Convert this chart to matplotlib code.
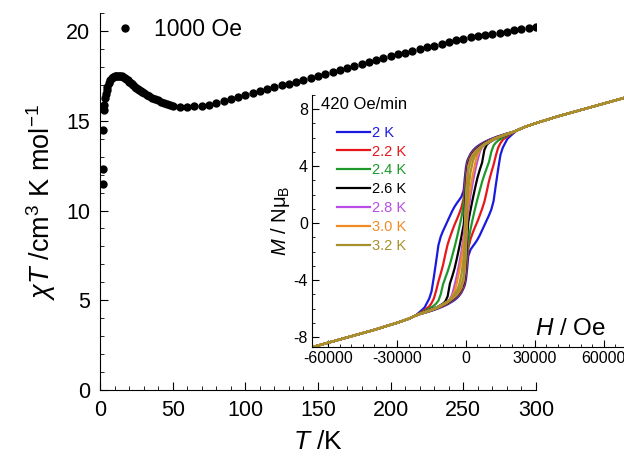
import matplotlib.pyplot as plt
from matplotlib.ticker import MultipleLocator

plt.rcParams['font.family'] = ['Liberation Sans', 'DejaVu Sans']
plt.rcParams['mathtext.fontset'] = 'custom'
plt.rcParams['mathtext.rm'] = 'Liberation Sans'
plt.rcParams['mathtext.it'] = 'Liberation Sans:italic'
plt.rcParams['axes.unicode_minus'] = False

# chi*T vs T at 1000 Oe
temp = [1.8, 2.0, 2.3, 2.6, 3.0, 3.5, 4, 4.5, 5, 6, 7, 8, 9, 10, 11, 12, 13, 14, 15, 16,
        17, 18, 19, 20, 21, 22, 23, 24, 25, 26, 27, 28, 29, 30, 32, 34, 36, 38, 40, 42,
        44, 46, 48, 50, 55, 60, 65, 70, 75, 80, 85, 90, 95, 100, 105, 110, 115, 120, 125,
        130, 135, 140, 145, 150, 155, 160, 165, 170, 175, 180, 185, 190, 195, 200, 205,
        210, 215, 220, 225, 230, 235, 240, 245, 250, 255, 260, 265, 270, 275, 280, 285,
        290, 295, 300]
chiT = [11.45, 12.29, 14.47, 15.6, 15.9, 16.25, 16.5, 16.7, 16.88, 17.1, 17.25, 17.36,
        17.43, 17.47, 17.5, 17.5, 17.5, 17.49, 17.47, 17.43, 17.38, 17.32, 17.25, 17.18,
        17.11, 17.04, 16.97, 16.9, 16.84, 16.78, 16.72, 16.66, 16.61, 16.56, 16.46, 16.37,
        16.29, 16.21, 16.14, 16.07, 16.0, 15.93, 15.88, 15.84, 15.79, 15.78, 15.8, 15.83,
        15.9, 15.98, 16.08, 16.19, 16.32, 16.45, 16.57, 16.67, 16.77, 16.87, 16.97, 17.07,
        17.17, 17.27, 17.38, 17.48, 17.59, 17.7, 17.81, 17.92, 18.03, 18.14, 18.25, 18.37,
        18.48, 18.59, 18.69, 18.79, 18.89, 18.99, 19.09, 19.19, 19.29, 19.39, 19.48, 19.56,
        19.64, 19.71, 19.78, 19.85, 19.91, 19.97, 20.03, 20.09, 20.14, 20.2]

# M(H) loops, 420 Oe/min; values of the down sweep (high field -> low field)
h_low = [-70000, -60000, -50000, -40000, -30000, -25000, -22000]
m_low = [-8.85, -8.4, -7.95, -7.5, -7.0, -6.72, -6.5]
h_high = [22000, 25000, 30000, 40000, 50000, 60000, 70000]
m_high = [6.5, 6.72, 7.0, 7.5, 7.95, 8.4, 8.85]
h_mid = [-20000, -18000, -16000, -15000, -14000, -13000, -12000, -11000, -10000, -9000,
         -8000, -7000, -6000, -5000, -4000, -3000, -2000, -1000, -500, 0, 500, 1000,
         2000, 3000, 4000, 5000, 6000, 8000, 10000, 12000, 14000, 16000, 18000, 20000]

labels = ['2 K', '2.2 K', '2.4 K', '2.6 K', '2.8 K', '3.0 K', '3.2 K']
colors = ['#1a1ade', '#e8161b', '#1e9a2a', '#000000', '#b84de8', '#f08a24', '#a8902c']

m_2k0 = [-6.22, -5.92, -5.30, -4.80, -3.80, -2.70, -1.55, -0.95, -0.55, -0.20, 0.15, 0.50,
         0.85, 1.15, 1.40, 1.62, 1.85, 2.30, 3.20, 3.95, 4.35, 4.55, 4.88, 5.10, 5.27, 5.40,
         5.51, 5.70, 5.85, 5.98, 6.10, 6.20, 6.30, 6.38]
m_2k2 = [-6.30, -6.10, -5.85, -5.62, -5.30, -4.75, -4.10, -3.55, -2.95, -2.20, -1.50, -1.00,
         -0.55, -0.12, 0.25, 0.65, 1.10, 1.75, 2.60, 3.50, 4.15, 4.45, 4.80, 5.02, 5.19, 5.33,
         5.45, 5.66, 5.82, 5.96, 6.08, 6.19, 6.29, 6.38]
m_2k4 = [-6.33, -6.17, -6.00, -5.90, -5.80, -5.65, -5.45, -5.00, -4.30, -3.85, -3.40, -2.90,
         -2.30, -1.70, -1.05, -0.35, 0.40, 1.30, 2.10, 3.10, 3.90, 4.30, 4.70, 4.95, 5.13, 5.28,
         5.41, 5.62, 5.79, 5.94, 6.07, 6.18, 6.29, 6.38]
m_2k6 = [-6.35, -6.22, -6.10, -6.04, -5.98, -5.92, -5.85, -5.75, -5.65, -5.50, -5.15, -4.25,
         -3.75, -3.20, -2.50, -1.75, -0.95, -0.10, 1.00, 2.60, 3.70, 4.20, 4.62, 4.90, 5.08,
         5.24, 5.37, 5.60, 5.77, 5.93, 6.06, 6.17, 6.28, 6.38]
m_2k8 = [-6.36, -6.24, -6.12, -6.06, -6.00, -5.93, -5.86, -5.78, -5.70, -5.60, -5.50, -5.35,
         -5.00, -4.40, -3.70, -2.90, -2.00, -0.90, -0.10, 2.00, 3.40, 4.05, 4.55, 4.85, 5.04,
         5.20, 5.33, 5.57, 5.75, 5.92, 6.05, 6.17, 6.28, 6.38]
m_3k0 = [-6.37, -6.25, -6.13, -6.07, -6.01, -5.94, -5.87, -5.79, -5.70, -5.60, -5.50, -5.35,
         -5.15, -4.80, -4.20, -3.40, -2.50, -1.40, -0.50, 1.50, 3.10, 3.90, 4.50, 4.80, 5.00,
         5.15, 5.29, 5.55, 5.74, 5.91, 6.04, 6.16, 6.27, 6.38]
m_3k2 = [-6.37, -6.26, -6.14, -6.08, -6.02, -5.95, -5.87, -5.79, -5.70, -5.60, -5.50, -5.36,
         -5.20, -5.00, -4.75, -4.35, -3.60, -2.40, -1.30, 1.00, 2.80, 3.70, 4.40, 4.75, 4.95,
         5.10, 5.25, 5.53, 5.72, 5.90, 6.03, 6.16, 6.27, 6.38]
m_loops = [m_2k0, m_2k2, m_2k4, m_2k6, m_2k8, m_3k0, m_3k2]

fig = plt.figure(figsize=(6.24, 4.62), dpi=100)
ax = fig.add_axes([0.1603, 0.1558, 0.6987, 0.816])
ax.plot(temp, chiT, 'o', color='black', markersize=5, label='1000 Oe')
ax.set_xlim(0, 300)
ax.set_ylim(0, 21)
ax.xaxis.set_major_locator(MultipleLocator(50))
ax.xaxis.set_minor_locator(MultipleLocator(10))
ax.yaxis.set_major_locator(MultipleLocator(5))
ax.yaxis.set_minor_locator(MultipleLocator(1))
ax.tick_params(which='both', direction='in', labelsize=15.5, pad=7)
ax.tick_params(which='major', length=6)
ax.tick_params(which='minor', length=3)
for s in ['top', 'right']:
    ax.spines[s].set_visible(False)
ax.set_xlabel(r'$T$ /K', fontsize=19, labelpad=7)
ax.set_ylabel(r'$\chi T$ /cm$^3$ K mol$^{-1}$', fontsize=19.5, labelpad=6)
ax.legend(loc='upper left', bbox_to_anchor=(0.034, 0.988), frameon=False, fontsize=16.5,
          handlelength=0.9, handletextpad=0.8, borderpad=0, borderaxespad=0, numpoints=1)

# inset: hysteresis loops
ins = fig.add_axes([0.5, 0.2489, 0.512, 0.5455])
for i in range(len(labels)):
    h = h_low + h_mid + h_high
    m = m_low + m_loops[i] + m_high
    # return sweep is the point mirror of the down sweep
    xs = h[::-1] + [-v for v in h[::-1]]
    ys = m[::-1] + [-v for v in m[::-1]]
    ins.plot(xs, ys, color=colors[i], lw=1.6, label=labels[i])
ins.set_xlim(-67000, 72000)
ins.set_ylim(-8.7, 9)
ins.set_xticks([-60000, -30000, 0, 30000, 60000])
ins.xaxis.set_minor_locator(MultipleLocator(5000))
ins.yaxis.set_major_locator(MultipleLocator(4))
ins.yaxis.set_minor_locator(MultipleLocator(1))
ins.tick_params(which='both', direction='in', labelsize=11.5, pad=3)
ins.tick_params(which='major', length=5)
ins.tick_params(which='minor', length=2.5)
for s in ['top', 'right']:
    ins.spines[s].set_visible(False)
ins.patch.set_alpha(0)
ins.set_ylabel(r'$M$ / N$\mathregular{\mu_B}$', fontsize=14.5, labelpad=1)
ins.text(0.028, 0.962, '420 Oe/min', transform=ins.transAxes, fontsize=12,
         ha='left', va='center')
ins.text(0.698, 0.071, r'$H$ / Oe', transform=ins.transAxes, fontsize=17.5,
         ha='left', va='center')
ins.legend(loc='upper left', bbox_to_anchor=(0.078, 0.878), frameon=False, fontsize=10.5,
           handlelength=2.3, handletextpad=0.1, labelspacing=0.33, borderpad=0,
           borderaxespad=0, labelcolor='linecolor')

fig.savefig('out.png', dpi=100)
